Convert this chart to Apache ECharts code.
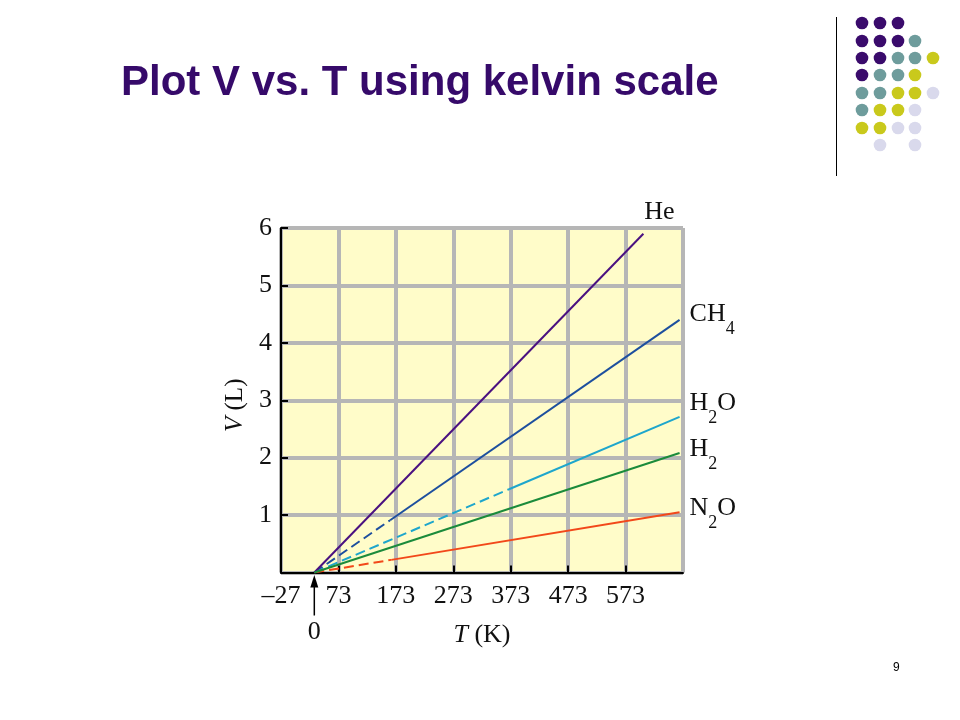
<!DOCTYPE html>
<html>
<head>
<meta charset="utf-8">
<script src="https://cdn.jsdelivr.net/npm/echarts@6/dist/echarts.min.js"></script>
<style>html,body{margin:0;padding:0;background:#fff;}#c{width:960px;height:720px;}</style>
</head>
<body>
<div id="c"></div>
<script>
// ---- data (T in K as labelled on the axis, V in L) ----
const xTicks = [-27, 73, 173, 273, 373, 473, 573];
const yTicks = [1, 2, 3, 4, 5, 6];
const origin = [31, 0]; // where all lines meet (marked "0")
const heSolid = [[31, 0], [604, 5.9]];
const ch4Dashed = [[31, 0], [163, 0.91]];
const ch4Solid = [[163, 0.91], [667, 4.40]];
const h2oDashed = [[31, 0], [370, 1.45]];
const h2oSolid = [[370, 1.45], [667, 2.71]];
const h2Solid = [[31, 0], [667, 2.08]];
const n2oDashed = [[31, 0], [165, 0.22]];
const n2oSolid = [[165, 0.22], [667, 1.05]];

const SERIF = 'Liberation Serif, Times New Roman, serif';
const colors = { He: '#4a1180', CH4: '#1d4f9e', H2O: '#1ea6cc', H2: '#1b8b3b', N2O: '#f2481a' };
const labels = {
  He: { text: '{n|He}', align: 'center', distance: 0, offset: [16, -22] },
  CH4: { text: '{n|CH}{s|4}', align: 'left', distance: 10, offset: [0, -6] },
  H2O: { text: '{n|H}{s|2}{n|O}', align: 'left', distance: 10, offset: [0, -14] },
  H2: { text: '{n|H}{s|2}', align: 'left', distance: 10, offset: [0, -4] },
  N2O: { text: '{n|N}{s|2}{n|O}', align: 'left', distance: 10, offset: [0, -4] }
};
const rich = {
  n: { fontFamily: SERIF, fontSize: 26, color: '#111' },
  s: { fontFamily: SERIF, fontSize: 18, color: '#111', padding: [30, 0, 0, 0] }
};

function dashed(name, pts) {
  return { type: 'line', name: name, data: pts, symbol: 'none', silent: true,
    lineStyle: { color: colors[name], width: 2, type: [10, 5] }, z: 3 };
}
function solid(name, pts) {
  const L = labels[name];
  return { type: 'line', name: name, data: pts, symbol: 'none', silent: true,
    lineStyle: { color: colors[name], width: 2 }, z: 3,
    endLabel: { show: true, formatter: L.text, align: L.align, distance: L.distance, offset: L.offset,
      fontFamily: SERIF, fontSize: 26, color: '#111', rich: rich } };
}

const chart = echarts.init(document.getElementById('c'));
const dotColors = { P: '#3a0b6c', T: '#6e9c9c', Y: '#c9c91c', L: '#d9d9ec' };
const dotRows = ['PPP', 'PPPT', 'PPTTY', 'PTTY', 'TTYYL', 'TYYL', 'YYLL', '.L.L'];
const dotX = [862, 880, 898, 915, 933];
const dotY = [23, 41, 58, 75, 93, 110, 128, 145];
const graphics = [
  { type: 'line', shape: { x1: 836.5, y1: 17, x2: 836.5, y2: 176 }, style: { stroke: '#000', lineWidth: 1 } },
  { type: 'text', left: 893, top: 662, style: { text: '9', font: '12px Liberation Sans, Arial', fill: '#000' } }
];
dotRows.forEach((row, r) => {
  row.split('').forEach((ch, c) => {
    if (ch === '.') return;
    graphics.push({ type: 'circle', shape: { cx: dotX[c], cy: dotY[r], r: 6.3 }, style: { fill: dotColors[ch] } });
  });
});

chart.setOption({
  animation: false,
  backgroundColor: '#fff',
  title: {
    text: 'Plot V vs. T using kelvin scale',
    left: 116, top: 57,
    textStyle: { fontFamily: 'Liberation Sans, Arial', fontWeight: 'bold', fontSize: 42, color: '#360a6a' }
  },
  grid: { left: 281, top: 228, right: 277, bottom: 147.5, show: true, backgroundColor: '#fffcc9', borderWidth: 0 },
  xAxis: {
    type: 'value', min: -27, max: 673, interval: 100,
    name: '{i|T} (K)', nameLocation: 'middle', nameGap: 50, nameMoveOverlap: false,
    nameTextStyle: { fontFamily: SERIF, fontSize: 26, color: '#111',
      rich: { i: { fontFamily: SERIF, fontSize: 26, fontStyle: 'italic', color: '#111' } } },
    axisLine: { show: true, onZero: false, lineStyle: { color: '#000', width: 2 } },
    axisTick: { show: true, inside: true, length: 7, lineStyle: { color: '#000', width: 2 } },
    axisLabel: { margin: 11, fontFamily: SERIF, fontSize: 26, color: '#111', showMaxLabel: false,
      formatter: v => xTicks.indexOf(Math.round(v)) < 0 ? '' : (v < 0 ? '\u2013' + Math.abs(v) : String(v)) },
    splitLine: { show: true, lineStyle: { color: '#b6b6b6', width: 4 } }
  },
  yAxis: {
    type: 'value', min: 0, max: 6, interval: 1,
    name: '{i|V} (L)', nameLocation: 'middle', nameGap: 33, nameRotate: 90, nameMoveOverlap: false,
    nameTextStyle: { fontFamily: SERIF, fontSize: 25, color: '#111', padding: [0, 10, 0, 0],
      rich: { i: { fontFamily: SERIF, fontSize: 25, fontStyle: 'italic', color: '#111' } } },
    axisLine: { show: true, onZero: false, lineStyle: { color: '#000', width: 2 } },
    axisTick: { show: true, inside: true, length: 7, lineStyle: { color: '#000', width: 2 } },
    axisLabel: { margin: 9, fontFamily: SERIF, fontSize: 26, color: '#111', showMinLabel: false, padding: [6, 0, 0, 0],
      formatter: v => yTicks.indexOf(Math.round(v)) < 0 ? '' : String(v) },
    splitLine: { show: true, lineStyle: { color: '#b6b6b6', width: 4 } }
  },
  series: [
    dashed('CH4', ch4Dashed), dashed('H2O', h2oDashed), dashed('N2O', n2oDashed),
    solid('He', heSolid), solid('CH4', ch4Solid), solid('H2O', h2oSolid),
    solid('H2', h2Solid), solid('N2O', n2oSolid)
  ],
  graphic: graphics
});

// arrow marking the meeting point "0"
const p = chart.convertToPixel({ gridIndex: 0 }, origin);
graphics.push(
  { type: 'line', shape: { x1: p[0], y1: p[1] + 12, x2: p[0], y2: p[1] + 43 }, style: { stroke: '#000', lineWidth: 1.5 } },
  { type: 'polygon', shape: { points: [[p[0], p[1] + 2.5], [p[0] - 4, p[1] + 15], [p[0] + 4, p[1] + 15]] }, style: { fill: '#000' } },
  { type: 'text', x: p[0], y: p[1] + 60, style: { text: '0', font: '26px ' + SERIF, fill: '#111', textAlign: 'center', textVerticalAlign: 'middle' } }
);
chart.setOption({ graphic: graphics });
</script>
</body>
</html>
